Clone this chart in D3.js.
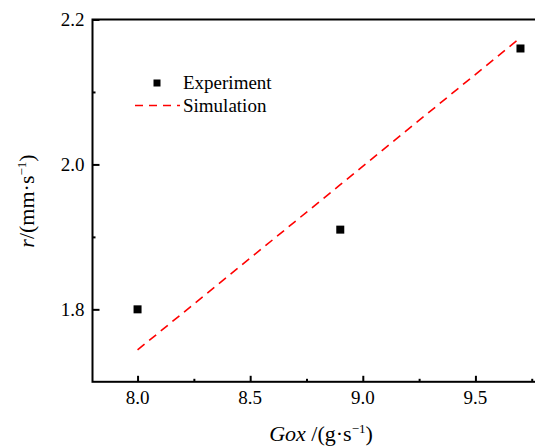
<!DOCTYPE html>
<html lang="en">
<head>
    <meta charset="UTF-8">
    <title>Regression rate vs oxidizer flow</title>
    <script src="https://d3js.org/d3.v7.min.js"></script>
    <style>
        body { margin: 0; background: #fff; }
        svg { display: block; }
        svg text { font-family: "Liberation Serif", "Times New Roman", serif; fill: #000; }
        .ticklabel, .legend text { font-size: 19px; }
        .title { font-size: 22px; }
    </style>
</head>
<body>
    <svg width="535" height="448"></svg>
    <script>
        // experiment points
        const goxExp = [8.0, 8.9, 9.7];
        const rateExp = [1.80, 1.91, 2.16];
        // simulation line
        const goxSim = [8.0, 8.9, 9.7];
        const rateSim = [1.744, 1.972, 2.175];

        const xTicks = [8.0, 8.5, 9.0, 9.5];
        const xMinor = [8.25, 8.75, 9.25, 9.75];
        const yTicks = [1.8, 2.0, 2.2];
        const yMinor = [1.9, 2.1];

        const svg = d3.select("svg");
        const plotL = 92.5, plotT = 19.5, plotB = 381.8, plotR = 543;
        const fmt = d3.format(".1f");

        const x = d3.scaleLinear().domain([7.8, 9.8]).range([plotL, plotR]);
        const y = d3.scaleLinear().domain([1.7, 2.2]).range([plotB, plotT]);

        function ticks(axis, tr, vals, size) {
            const g = svg.append("g")
                .attr("transform", tr)
                .call(axis.tickValues(vals).tickSize(-size).tickFormat(""));
            g.select(".domain").remove();
            g.selectAll("line").attr("stroke-width", 2);
        }
        ticks(d3.axisBottom(x), `translate(0,${plotB})`, xMinor, 3);
        ticks(d3.axisLeft(y), `translate(${plotL},0)`, yMinor, 3);
        ticks(d3.axisBottom(x), `translate(0,${plotB})`, xTicks, 6);
        ticks(d3.axisLeft(y), `translate(${plotL},0)`, yTicks, 7);

        // tick labels
        svg.append("g").selectAll("text")
            .data(xTicks)
            .enter().append("text")
            .attr("class", "ticklabel")
            .attr("x", d => x(d))
            .attr("y", plotB + 22)
            .attr("text-anchor", "middle")
            .text(fmt);
        svg.append("g").selectAll("text")
            .data(yTicks)
            .enter().append("text")
            .attr("class", "ticklabel")
            .attr("x", plotL - 8)
            .attr("y", d => y(d) + 6.5)
            .attr("text-anchor", "end")
            .text(fmt);

        // frame
        svg.append("rect")
            .attr("x", plotL).attr("y", plotT)
            .attr("width", plotR - plotL).attr("height", plotB - plotT)
            .attr("fill", "none").attr("stroke", "#000").attr("stroke-width", 2);

        // simulation
        const line = d3.line().x(d => x(d[0])).y(d => y(d[1]));
        svg.append("path")
            .datum(goxSim.map((g, i) => [g, rateSim[i]]))
            .attr("d", line)
            .attr("fill", "none")
            .attr("stroke", "#ff0000")
            .attr("stroke-width", 1.6)
            .attr("stroke-dasharray", "9,6");

        // experiment
        const sq = 8;
        svg.append("g").selectAll("rect")
            .data(goxExp.map((g, i) => [g, rateExp[i]]))
            .enter().append("rect")
            .attr("x", d => x(d[0]) - sq / 2)
            .attr("y", d => y(d[1]) - sq / 2)
            .attr("width", sq).attr("height", sq)
            .attr("fill", "#000");

        // legend
        const legend = svg.append("g").attr("class", "legend");
        legend.append("rect")
            .attr("x", 157 - 3.5).attr("y", 83 - 3.5)
            .attr("width", 7).attr("height", 7).attr("fill", "#000");
        legend.append("text").attr("x", 183).attr("y", 89).text("Experiment");
        legend.append("line")
            .attr("x1", 135).attr("x2", 180).attr("y1", 105.5).attr("y2", 105.5)
            .attr("stroke", "#ff0000").attr("stroke-width", 1.6)
            .attr("stroke-dasharray", "8,6");
        legend.append("text").attr("x", 183).attr("y", 112).text("Simulation");

        // axis titles
        const xt = svg.append("text").attr("class", "title")
            .attr("x", 321).attr("y", 441).attr("text-anchor", "middle");
        xt.append("tspan").attr("font-style", "italic").text("Gox");
        xt.append("tspan").text(" /(g·s");
        xt.append("tspan").attr("font-size", "13px").attr("dy", -8).text("−1");
        xt.append("tspan").attr("dy", 8).text(")");

        const yt = svg.append("text").attr("class", "title")
            .attr("transform", "translate(34,201) rotate(-90)")
            .attr("text-anchor", "middle");
        yt.append("tspan").attr("font-style", "italic").text("r");
        yt.append("tspan").text("/(mm·s");
        yt.append("tspan").attr("font-size", "13px").attr("dy", -8).text("−1");
        yt.append("tspan").attr("dy", 8).text(")");
    </script>
</body>
</html>
